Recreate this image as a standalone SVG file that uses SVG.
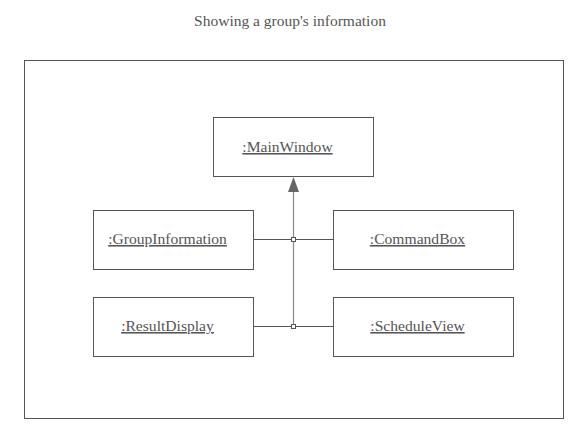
<svg xmlns="http://www.w3.org/2000/svg" width="582" height="435" viewBox="0 0 582 435">
<style>
.box{fill:#fff;stroke:#555;stroke-width:1}
.lbl{font-family:"Liberation Serif","DejaVu Serif",serif;font-size:15.6px;fill:#555;text-decoration:underline}
.ttl{font-family:"Liberation Serif","DejaVu Serif",serif;font-size:15.5px;fill:#555}
.ln{stroke:#555;stroke-width:1;fill:none}
.vl{stroke:#888;stroke-width:1.2;fill:none}
.jn{fill:#fff;stroke:#555;stroke-width:1}
.ah{fill:#666}
</style>
<rect width="582" height="435" fill="#fff"/>
<text class="ttl" x="290" y="26" text-anchor="middle">Showing a group's information</text>
<rect id="frame" x="24.5" y="60.5" width="539" height="358" fill="none" stroke="#555"/>
<g id="connectors">
<line class="ln" x1="253" y1="239.5" x2="333" y2="239.5"/>
<line class="ln" x1="253" y1="326.5" x2="333" y2="326.5"/>
<path d="M293.5,326 L293.5,190" class="vl"/>
<path class="ah" d="M288,192 L293.5,177 L299,192 z"/>
<rect class="jn" x="291.5" y="237.5" width="4" height="4"/>
<rect class="jn" x="291.5" y="324.5" width="4" height="4"/>
</g>
<g id="mainwindow">
<rect class="box" x="213.5" y="117.5" width="160" height="59"/>
<text class="lbl" x="287.5" y="152" text-anchor="middle">:MainWindow</text>
</g>
<g id="groupinformation">
<rect class="box" x="93.5" y="210.5" width="160" height="59"/>
<text class="lbl" x="167.5" y="244" text-anchor="middle">:GroupInformation</text>
</g>
<g id="commandbox">
<rect class="box" x="333.5" y="210.5" width="180" height="59"/>
<text class="lbl" x="417.5" y="244" text-anchor="middle">:CommandBox</text>
</g>
<g id="resultdisplay">
<rect class="box" x="93.5" y="297.5" width="160" height="59"/>
<text class="lbl" x="167.5" y="331" text-anchor="middle">:ResultDisplay</text>
</g>
<g id="scheduleview">
<rect class="box" x="333.5" y="297.5" width="180" height="59"/>
<text class="lbl" x="417.5" y="331" text-anchor="middle">:ScheduleView</text>
</g>
</svg>
